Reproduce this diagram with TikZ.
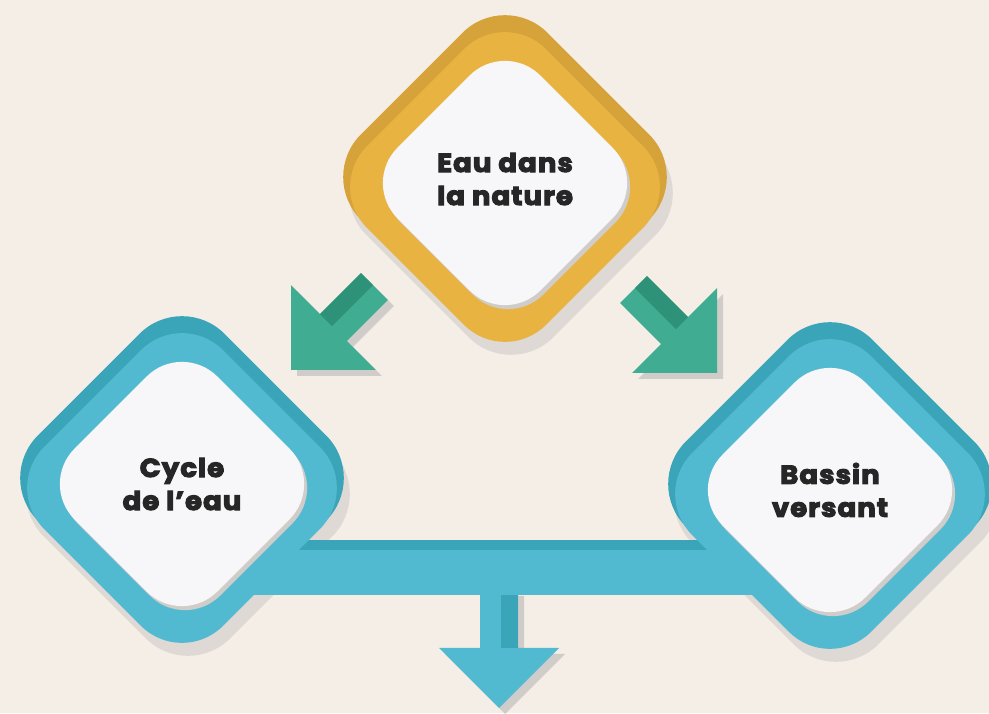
\documentclass[tikz,border=0pt]{standalone}
\usepackage{fontspec}
\setmainfont{Poppins}[FakeStretch=1.06, LetterSpace=4, BoldFeatures={FakeBold=4}]
\usetikzlibrary{calc}

\definecolor{fundo}{RGB}{244,238,230}
\definecolor{laranja}{RGB}{233,179,66}
\definecolor{laranjaesc}{RGB}{214,163,58}
\definecolor{azul}{RGB}{82,186,208}
\definecolor{azulesc}{RGB}{58,164,184}
\definecolor{verde}{RGB}{64,172,146}
\definecolor{verdeesc}{RGB}{46,146,120}
\definecolor{branco}{RGB}{247,247,249}
\definecolor{sombra}{RGB}{208,204,202}
\definecolor{texto}{RGB}{38,38,38}

\tikzset{
  seta/.pic={\fill[pic actions] (0,0) -- (-60,60) -- (-60,19) -- (-118,19) -- (-118,-19) -- (-60,-19) -- (-60,-60) -- cycle;},
  faixa/.pic={\fill[pic actions] (-60,2) rectangle (-118,19);}
}

\begin{document}
\begin{tikzpicture}[x=1pt, y=1pt,
    losango/.style={rectangle, rotate=45, inner sep=0pt, outer sep=0pt},
    fundoL/.style={losango, minimum size=264pt, rounded corners=60pt},
    frenteL/.style={losango, minimum size=253pt, rounded corners=58pt},
    cartao/.style={losango, minimum size=202pt, rounded corners=50pt},
    rotulo/.style={align=center, text=texto, font=\bfseries\fontsize{26}{33}\selectfont}]

    \useasboundingbox (0,0) rectangle (989,713);
    \fill[fundo] (0,0) rectangle (989,713);

    % Centros dos losangos
    \coordinate (E) at (505,530);   % Eau dans la nature
    \coordinate (C) at (182,229);   % Cycle de l'eau
    \coordinate (B) at (830,223);   % Bassin versant
    \coordinate (barra) at (499,145);

    % Pontas das setas
    \coordinate (pE) at (291,343);
    \coordinate (pD) at (717,340);
    \coordinate (pB) at (499,5);

    % Sombras dos losangos
    \foreach \pos in {E, C, B}
        \node[fundoL, fill=sombra, opacity=.6] (\pos-sombra) at ($(\pos)+(6,-10)$) {};

    % Setas verdes
    \pic[fill=sombra, rotate=225] at ($(pE)+(6,-6)$) {seta};
    \pic[fill=sombra, rotate=315] at ($(pD)+(6,-6)$) {seta};
    \pic[fill=verde, rotate=225] at (pE) {seta};
    \pic[fill=verde, rotate=315] at (pD) {seta};
    \pic[fill=verdeesc, rotate=225, yscale=-1] at (pE) {faixa};
    \pic[fill=verdeesc, rotate=315] at (pD) {faixa};

    % Seta azul para baixo
    \pic[fill=sombra, rotate=270] at ($(pB)+(6,-6)$) {seta};
    \pic[fill=azul, rotate=270] at (pB) {seta};
    \pic[fill=azulesc, rotate=270] at (pB) {faixa};

    % Barra entre os losangos de baixo
    \draw[azul, line width=55pt] (C |- barra) -- (B |- barra);
    \draw[azulesc, line width=10pt] ($(C |- barra)+(0,22.5)$) -- ($(B |- barra)+(0,22.5)$);

    % Losangos
    \foreach \pos/\cor/\esc in {E/laranja/laranjaesc, C/azul/azulesc, B/azul/azulesc} {
        \node[fundoL, fill=\esc] (\pos-fundo) at ($(\pos)+(0,6)$) {};
        \node[frenteL, fill=\cor] (\pos-frente) at ($(\pos)+(0,-4)$) {};
        \node[cartao, fill=sombra] (\pos-borda) at ($(\pos)+(3,-4)$) {};
        \node[cartao, fill=branco] (\pos-cartao) at (\pos) {};
    }

    % Textos
    \node[rotulo, yshift=4pt] (tE) at (E) {Eau dans\\la nature};
    \node[rotulo] (tC) at (C) {Cycle\\de l’eau};
    \node[rotulo] (tB) at (B) {Bassin\\versant};
\end{tikzpicture}
\end{document}
